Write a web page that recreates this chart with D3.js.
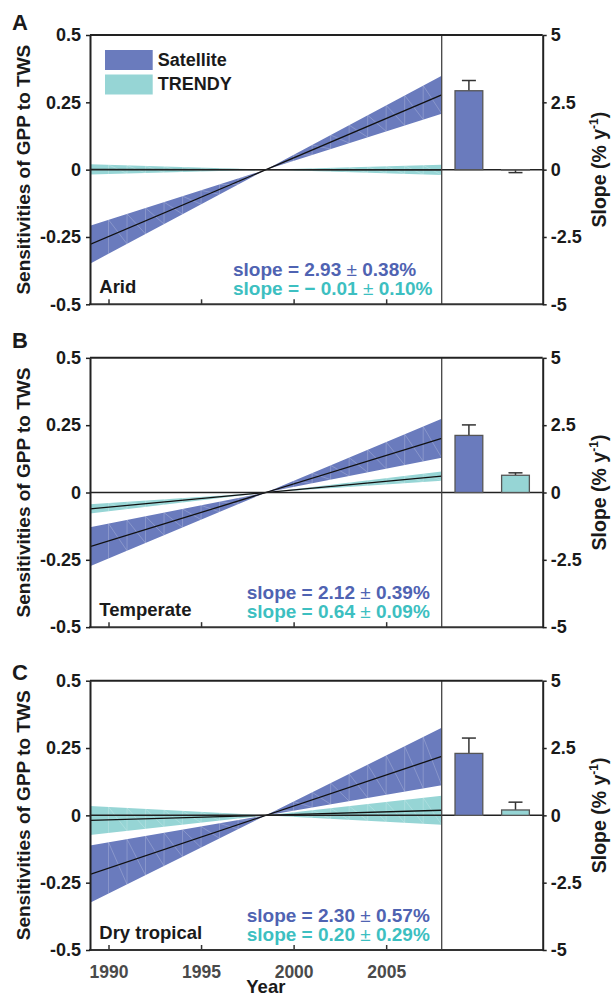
<!DOCTYPE html>
<html>
<head>
<meta charset="utf-8">
<script src="https://cdn.jsdelivr.net/npm/d3@7"></script>
<style>
  body { margin: 0; background: #fff; }
  svg text { font-family: "Liberation Sans", Arial, Helvetica, sans-serif; font-weight: bold; }
</style>
</head>
<body>
<svg id="chart" width="616" height="998"></svg>
<script>
// values
const panelLetters = ["A", "B", "C"];
const regions = ["Arid", "Temperate", "Dry tropical"];
const sources = ["Satellite", "TRENDY"];
const satSlope = [2.93, 2.12, 2.30];
const satErr = [0.38, 0.39, 0.57];
const trendySlope = [-0.01, 0.64, 0.20];
const trendyErr = [0.10, 0.09, 0.29];

// regression lines and 95% bands, values at the two end years
const lineYears = [1989, 2008];
const satLine = [[-0.278, 0.278], [-0.201, 0.201], [-0.219, 0.219]];
const satBandHi = [[-0.349, 0.349], [-0.274, 0.274], [-0.325, 0.325]];
const satBandLo = [[-0.208, 0.208], [-0.129, 0.129], [-0.112, 0.112]];
const trendyLine = [[0.001, -0.001], [-0.061, 0.061], [-0.019, 0.019]];
const trendyBandHi = [[-0.018, 0.018], [-0.078, 0.078], [-0.073, 0.073]];
const trendyBandLo = [[0.020, -0.020], [-0.044, 0.044], [0.035, -0.035]];

const xTicks = [1990, 1995, 2000, 2005];
const yTicks = [0.5, 0.25, 0, -0.25, -0.5];
const slopeTicks = [5, 2.5, 0, -2.5, -5];

const blue = "#6a7bbd", cyan = "#96d5d5";
const blueText = "#4f63b2", cyanText = "#3dbfc1";

const left = 90, divider = 441.7, right = 542.7, ph = 269.3;
const tops = [35, 357.85, 680.7];
const letterY = [30, 348, 680];
const slopeTextX = [233, 246.7, 246.7];

var svg = d3.select("#chart");

var x = d3.scaleLinear().domain(lineYears).range([left, divider]);
var xb = d3.scaleBand().domain(sources).range([divider, right])
  .paddingInner(0.404).paddingOuter(0.286);

function fmt(v){
  return v < 0 ? "\u2212 " + Math.abs(v).toFixed(2) : v.toFixed(2);
}

function drawBand(g, y, hi, lo, colour){
  let eHi = d3.scaleLinear().domain(lineYears).range(hi);
  let eLo = d3.scaleLinear().domain(lineYears).range(lo);
  let pts = [[lineYears[0], hi[0]], [lineYears[1], hi[1]], [lineYears[1], lo[1]], [lineYears[0], lo[0]]];
  g.append("path")
    .attr("d", d3.line().x(d => x(d[0])).y(d => y(d[1]))(pts) + "Z")
    .attr("fill", colour);
  // faint triangulation lines seen in the original bands
  let yrs = d3.range(lineYears[0] + 1, lineYears[1]);
  let hatch = g.append("g").attr("stroke", "#fff").attr("stroke-opacity", 0.3).attr("stroke-width", 0.7);
  for (const yr of yrs){
    let a = Math.max(eHi(yr), eLo(yr)), b = Math.min(eHi(yr), eLo(yr));
    hatch.append("line").attr("x1", x(yr)).attr("x2", x(yr)).attr("y1", y(a)).attr("y2", y(b));
    if (yr + 1 <= lineYears[1]){
      let b2 = Math.min(eHi(yr + 1), eLo(yr + 1));
      hatch.append("line").attr("x1", x(yr)).attr("x2", x(yr + 1)).attr("y1", y(a)).attr("y2", y(b2));
    }
  }
}

function drawLine(g, y, ends){
  g.append("line")
    .attr("x1", x(lineYears[0])).attr("x2", x(lineYears[1]))
    .attr("y1", y(ends[0])).attr("y2", y(ends[1]))
    .attr("stroke", "#111").attr("stroke-width", 1.3);
}

panelLetters.forEach(function(letter, i){
  let top = tops[i], bottom = top + ph;
  let y = d3.scaleLinear().domain([-0.5, 0.5]).range([bottom, top]);
  let ys = d3.scaleLinear().domain([-5, 5]).range([bottom, top]);
  let g = svg.append("g");

  // bands + regression lines
  let clip = "clip" + i;
  g.append("clipPath").attr("id", clip).append("rect")
    .attr("x", left).attr("y", top).attr("width", divider - left).attr("height", ph);
  let plot = g.append("g").attr("clip-path", "url(#" + clip + ")");
  drawBand(plot, y, trendyBandHi[i], trendyBandLo[i], cyan);
  drawBand(plot, y, satBandHi[i], satBandLo[i], blue);

  // zero line across both sub panels
  g.append("line").attr("x1", left).attr("x2", right).attr("y1", y(0)).attr("y2", y(0))
    .attr("stroke", "#222").attr("stroke-width", 1.5);

  drawLine(plot, y, trendyLine[i]);
  drawLine(plot, y, satLine[i]);

  // bars with error bars
  let bars = [
    {name: sources[0], v: satSlope[i], e: satErr[i], fill: blue},
    {name: sources[1], v: trendySlope[i], e: trendyErr[i], fill: cyan}
  ];
  let bg = g.selectAll(".bar" + i).data(bars).enter().append("g");
  bg.append("line")
    .attr("x1", d => xb(d.name) + xb.bandwidth() / 2)
    .attr("x2", d => xb(d.name) + xb.bandwidth() / 2)
    .attr("y1", d => ys(d.v))
    .attr("y2", d => ys(d.v + Math.sign(d.v) * d.e))
    .attr("stroke", "#333").attr("stroke-width", 1.5);
  bg.append("line")
    .attr("x1", d => xb(d.name) + xb.bandwidth() / 2 - 7)
    .attr("x2", d => xb(d.name) + xb.bandwidth() / 2 + 7)
    .attr("y1", d => ys(d.v + Math.sign(d.v) * d.e))
    .attr("y2", d => ys(d.v + Math.sign(d.v) * d.e))
    .attr("stroke", "#333").attr("stroke-width", 1.5);
  bg.append("rect")
    .attr("x", d => xb(d.name))
    .attr("width", xb.bandwidth())
    .attr("y", d => Math.min(ys(d.v), ys(0)))
    .attr("height", d => Math.abs(ys(d.v) - ys(0)))
    .attr("fill", d => d.fill)
    .attr("stroke", "#555").attr("stroke-width", 1.3);

  // frame
  g.append("line").attr("x1", divider).attr("x2", divider).attr("y1", top).attr("y2", bottom)
    .attr("stroke", "#444").attr("stroke-width", 1.3);
  g.append("line").attr("x1", left).attr("x2", right).attr("y1", top).attr("y2", top)
    .attr("stroke", "#222").attr("stroke-width", 2);
  g.append("line").attr("x1", left - 1).attr("x2", right + 1).attr("y1", bottom).attr("y2", bottom)
    .attr("stroke", "#333").attr("stroke-width", 2);

  // axes
  let xAxis = d3.axisBottom(x).tickValues(xTicks).tickSize(-5).tickSizeOuter(0).tickPadding(16)
    .tickFormat(i == 2 ? d3.format("d") : "");
  let xa = g.append("g").attr("transform", "translate(0," + bottom + ")").call(xAxis);
  xa.select(".domain").remove();
  xa.selectAll("line").attr("stroke", "#333").attr("stroke-width", 1.5);
  xa.selectAll("text").attr("font-size", 17.5).attr("fill", "#4a4a4a")
    .attr("font-family", "Liberation Sans, Arial, sans-serif");

  let ya = g.append("g").attr("transform", "translate(" + left + ",0)")
    .call(d3.axisLeft(y).tickValues(yTicks).tickSize(4).tickSizeOuter(0).tickPadding(5).tickFormat(d => String(d)));
  ya.select(".domain").attr("stroke", "#222").attr("stroke-width", 2);
  ya.selectAll("line").attr("stroke", "#222").attr("stroke-width", 1.5);
  ya.selectAll("text").attr("font-size", 18).attr("fill", "#1a1a1a")
    .attr("font-family", "Liberation Sans, Arial, sans-serif");

  let ra = g.append("g").attr("transform", "translate(" + right + ",0)")
    .call(d3.axisRight(ys).tickValues(slopeTicks).tickSize(4).tickSizeOuter(0).tickPadding(4).tickFormat(d => String(d)));
  ra.select(".domain").attr("stroke", "#222").attr("stroke-width", 2);
  ra.selectAll("line").attr("stroke", "#222").attr("stroke-width", 1.5);
  ra.selectAll("text").attr("font-size", 18).attr("fill", "#1a1a1a")
    .attr("font-family", "Liberation Sans, Arial, sans-serif");

  // titles
  g.append("text").attr("transform", "translate(29.5," + y(0) + ") rotate(-90)")
    .attr("text-anchor", "middle").attr("font-size", 19).attr("fill", "#1a1a1a")
    .text("Sensitivities of GPP to TWS");
  let rt = g.append("text").attr("transform", "translate(606," + y(0) + ") rotate(-90)")
    .attr("text-anchor", "middle").attr("font-size", 19.5).attr("fill", "#1a1a1a");
  rt.append("tspan").text("Slope (% y");
  rt.append("tspan").attr("font-size", 12).attr("dy", -8).text("-1");
  rt.append("tspan").attr("dy", 8).text(")");

  g.append("text").attr("x", 12).attr("y", letterY[i]).attr("font-size", 22).attr("fill", "#1a1a1a")
    .text(letter);
  g.append("text").attr("x", 99.3).attr("y", bottom - 11).attr("font-size", 18.5).attr("fill", "#1a1a1a")
    .text(regions[i]);

  // slope annotations
  let lines = [
    {v: satSlope[i], e: satErr[i], c: blueText, dy: 28},
    {v: trendySlope[i], e: trendyErr[i], c: cyanText, dy: 9}
  ];
  for (const l of lines){
    let t = g.append("text").attr("x", slopeTextX[i]).attr("y", bottom - l.dy)
      .attr("font-size", 19).attr("fill", l.c);
    t.append("tspan").text("slope = " + fmt(l.v) + " ");
    t.append("tspan").attr("font-weight", "normal").text("\u00b1");
    t.append("tspan").text(" " + l.e.toFixed(2) + "%");
  }
});

// legend (panel A only)
let legend = svg.append("g").selectAll("g").data(sources).enter().append("g")
  .attr("transform", (d, i) => "translate(105," + (50 + i * 24.5) + ")");
legend.append("rect").attr("width", 47.7).attr("height", 20)
  .attr("fill", (d, i) => i == 0 ? blue : cyan);
legend.append("text").attr("x", 52.7).attr("y", (d, i) => 16.3 - i * 0.5)
  .attr("font-size", 18).attr("fill", "#1a1a1a").text(d => d);

// x axis title
svg.append("text").attr("x", (left + divider) / 2).attr("y", 992.5)
  .attr("text-anchor", "middle").attr("font-size", 18.5).attr("fill", "#1a1a1a").text("Year");
</script>
</body>
</html>
